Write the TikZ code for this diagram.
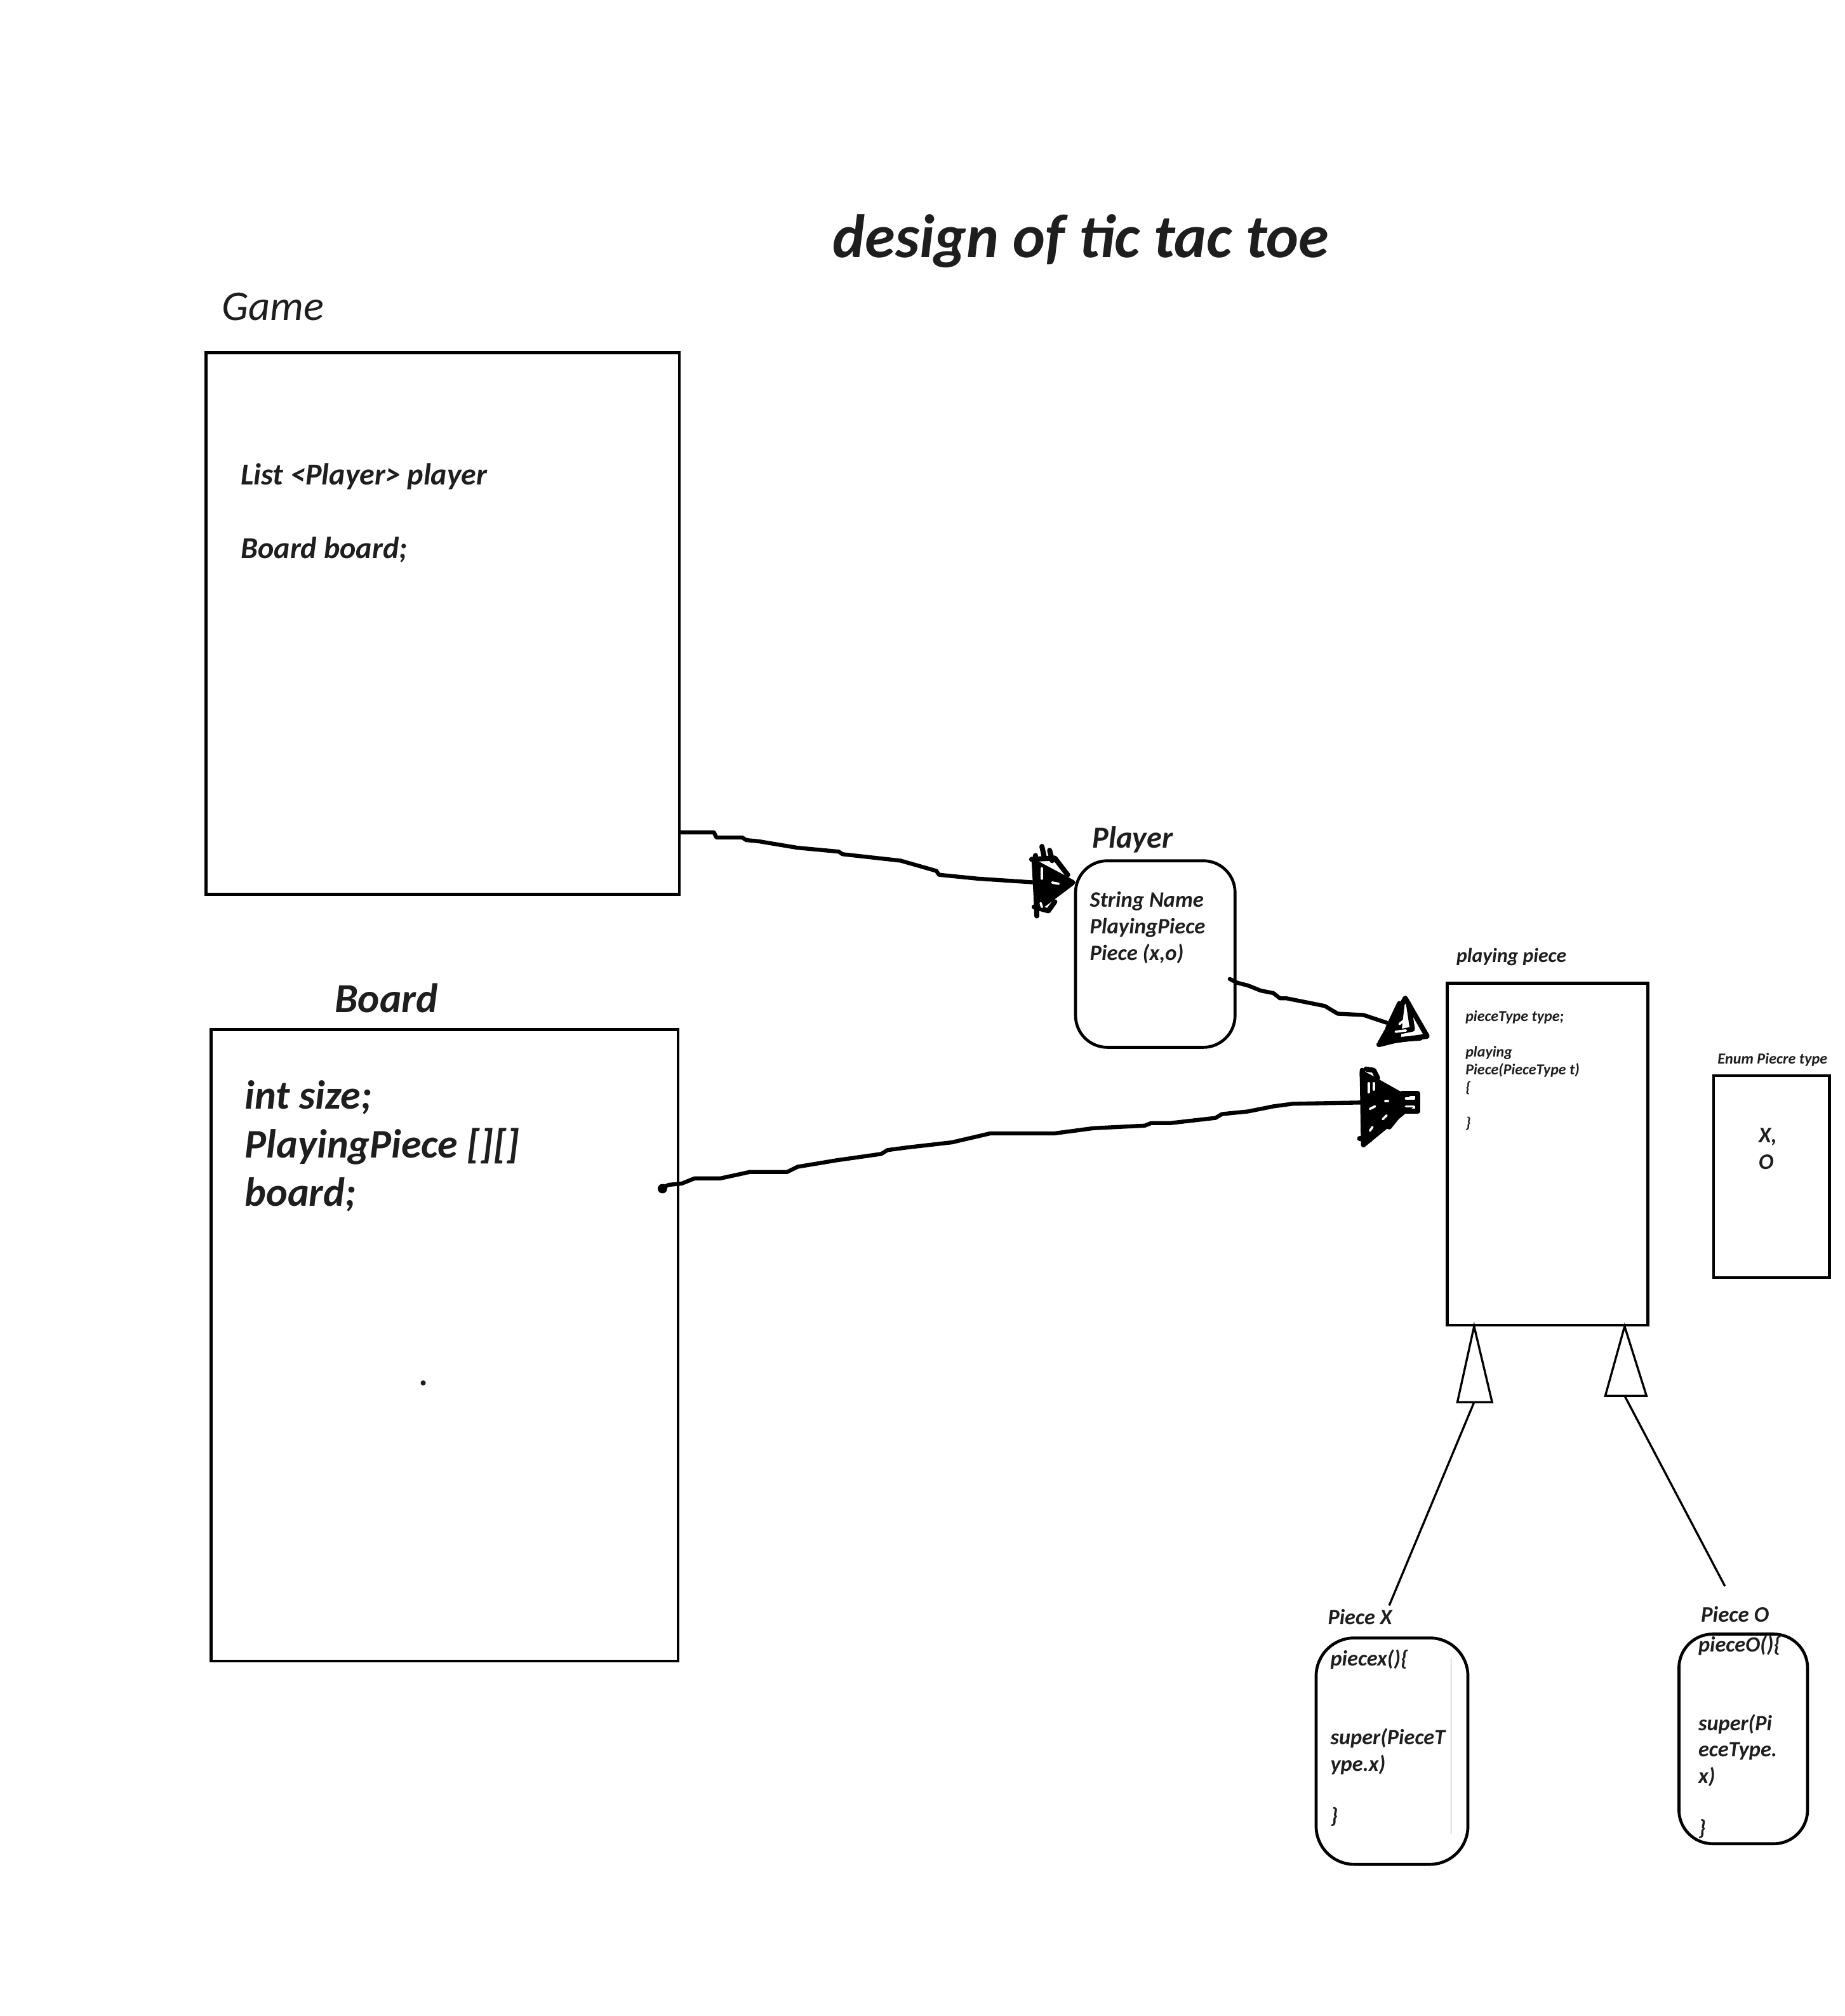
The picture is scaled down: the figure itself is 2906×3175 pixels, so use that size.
\documentclass[tikz,border=0pt]{standalone}
\usepackage{fontspec}
\setmainfont{Carlito}
\usetikzlibrary{fit}
\definecolor{ink}{HTML}{1E1E1E}
\newcommand\blk[2]{\vtop{\baselineskip=#1\lineskiplimit=-100pt\lineskip=0pt\relax #2}}
\begin{document}
\begin{tikzpicture}[x=0.3pt,y=-0.3pt,
  box/.style={draw=black, line width=1.4pt, inner sep=0pt},
  rbox/.style={box, rounded corners=#1},
  txt/.style={inner sep=0pt, anchor=base west, text=ink, font=\bfseries\itshape},
  wire/.style={line width=1.9pt, line join=round, line cap=round},
  scrib/.style={line width=2.4pt, line join=round, line cap=round},
  hole/.style={white, line width=1.1pt, line cap=round},
  inh/.style={draw=black, line width=1pt, fill=white, line join=miter}]
\useasboundingbox[fill=white] (0,0) rectangle (2906,3175);
\begin{scope}[scale=1.013]
% title
\node[txt] (title) at (1294,400) {\fontsize{29}{35}\selectfont design of tic tac toe};

% Game
\node[txt, font=\itshape] (gamelbl) at (344,498) {\fontsize{20}{24}\selectfont Game};
\node[box, fit={(320,548) (1056,1390)}] (game) {};
\node[txt] (gametxt) at (374,754) {\fontsize{14.4}{17}\selectfont\blk{17.4pt}{\hbox{List <Player> player}\hbox{}\hbox{Board board;}}};

% Board
\node[txt] (boardlbl) at (520,1574) {\fontsize{19.5}{23}\selectfont Board};
\node[box, fit={(328,1600) (1054,2582)}] (board) {};
\node[txt] (boardtxt) at (380,1724) {\fontsize{19.2}{23}\selectfont\blk{23pt}{\hbox{int size;}\hbox{PlayingPiece [][]}\hbox{board;}}};
\fill[ink] (658,2150) circle (1.2pt) coordinate (dot);

% Player
\node[txt] (playerlbl) at (1698,1318) {\fontsize{14.5}{17}\selectfont Player};
\node[rbox=15pt, fit={(1672,1338) (1920,1628)}] (player) {};
\node[txt] (playertxt) at (1694,1410) {\fontsize{10.4}{12}\selectfont\blk{12.6pt}{\hbox{String Name}\hbox{PlayingPiece}\hbox{Piece (x,o)}}};

% playing piece
\node[txt] (piecelbl) at (2264,1496) {\fontsize{9.5}{11}\selectfont playing piece};
\node[box, fit={(2250,1528) (2562,2060)}] (piece) {};
\node[txt] (piecetxt) at (2278,1588) {\fontsize{7.2}{8.6}\selectfont\blk{8.4pt}{\hbox{pieceType type;}\hbox{}\hbox{playing}\hbox{Piece(PieceType t)}\hbox{\{}\hbox{}\hbox{\}}}};

% enum
\node[txt] (enumlbl) at (2670,1654) {\fontsize{7.25}{8.7}\selectfont Enum Piecre type};
\node[box, fit={(2664,1672) (2844,1986)}] (enum) {};
\node[txt] (enumtxt) at (2734,1776) {\fontsize{10.5}{12.6}\selectfont\blk{12.6pt}{\hbox{X,}\hbox{O}}};

% Piece X
\node[txt] (pxlbl) at (2064,2526) {\fontsize{10.3}{12}\selectfont Piece X};
\node[rbox=18pt, fit={(2046,2546) (2282,2898)}] (px) {};
\node[txt] (pxtxt) at (2068,2590) {\fontsize{10.3}{12}\selectfont\blk{12.4pt}{\hbox{piecex()\{}\hbox{}\hbox{}\hbox{super(PieceT}\hbox{ype.x)}\hbox{}\hbox{\}}}};
\draw[gray!70, line width=0.5pt] (2256,2578) coordinate (pxa) -- (2256,2852) coordinate (pxb);

% Piece O
\node[txt] (polbl) at (2644,2522) {\fontsize{10.5}{12.6}\selectfont Piece O};
\node[rbox=16pt, fit={(2610,2540) (2810,2866)}] (po) {};
\node[txt] (potxt) at (2640,2568) {\fontsize{10.3}{12}\selectfont\blk{12.4pt}{\hbox{pieceO()\{}\hbox{}\hbox{}\hbox{super(Pi}\hbox{eceType.}\hbox{x)}\hbox{}\hbox{\}}}};

% inheritance
\draw[inh] (2292,2062) coordinate (ta) -- (2320,2180) -- (2266,2180) -- cycle;
\draw[inh] (2526,2062) coordinate (tb) -- (2560,2170) -- (2496,2170) -- cycle;
\draw[line width=1pt] (2292,2180) -- (2160,2496);
\draw[line width=1pt] (2526,2170) -- (2682,2466);

% Game -> Player
\draw[wire] (game.east |- 0,1294) -- (1110,1294) -- (1114,1302) -- (1154,1302) -- (1160,1306) -- (1180,1308)
  -- (1240,1318) -- (1304,1324) -- (1310,1328) -- (1400,1338) -- (1456,1354) -- (1460,1360)
  -- (1520,1366) -- (1610,1372);
\fill (1608,1340) -- (1668,1372) -- (1612,1414) -- cycle;
\draw[scrib] (1608,1340) -- (1668,1372) -- (1612,1414) -- cycle;
\draw[scrib] (1610,1330) -- (1612,1424);
\draw[scrib] (1604,1336) -- (1640,1334) -- (1660,1360);
\draw[scrib] (1620,1316) -- (1624,1334);
\draw[scrib] (1632,1322) -- (1636,1338);
\draw[scrib] (1608,1410) -- (1630,1416) -- (1640,1402);
\draw[hole] (1620,1350) -- (1620,1366);
\draw[hole] (1636,1372) -- (1646,1374);
\draw[hole] (1618,1404) -- (1620,1410);

% Player -> playing piece
\draw[wire] (1912,1522) -- (1924,1528) -- (1940,1532) -- (1960,1540) -- (1980,1544) -- (1990,1552)
  -- (2000,1552) -- (2060,1564) -- (2080,1576) -- (2120,1578) -- (2156,1590);
\fill (2185,1552) -- (2178,1614) -- (2150,1618) -- cycle;
\draw[scrib] (2185,1552) -- (2219,1611) -- (2146,1621) -- cycle;
\draw[scrib] (2190,1560) -- (2196,1600) -- (2166,1606);
\draw[scrib] (2144,1624) -- (2176,1616) -- (2208,1614);
\draw[scrib] (2176,1560) -- (2158,1598) -- (2162,1610);
\draw[hole] (2186,1584) -- (2176,1592);
\draw[hole] (2170,1604) -- (2186,1602);

% Board -> playing piece
\fill (1030,1848) circle (2.2pt);
\draw[wire] (1026,1848) -- (1040,1842) -- (1060,1840) -- (1080,1832) -- (1120,1832) -- (1166,1822)
  -- (1224,1822) -- (1240,1814) -- (1300,1804) -- (1370,1794) -- (1380,1788) -- (1410,1784)
  -- (1480,1776) -- (1540,1762) -- (1640,1762) -- (1700,1754) -- (1780,1750) -- (1790,1746)
  -- (1820,1746) -- (1890,1738) -- (1900,1732) -- (1940,1728) -- (1980,1720) -- (2010,1716)
  -- (2118,1714);
\fill (2118,1668) -- (2200,1714) -- (2122,1778) -- cycle;
\draw[scrib] (2118,1668) -- (2200,1714) -- (2122,1778) -- cycle;
\draw[scrib] (2118,1664) -- (2120,1780);
\draw[scrib] (2180,1700) rectangle (2204,1728);
\draw[scrib] (2124,1662) -- (2136,1664) -- (2142,1676);
\draw[scrib] (2114,1770) -- (2130,1772);
\draw[scrib] (2140,1740) -- (2160,1752) -- (2176,1732);
\draw[hole] (2128,1684) -- (2128,1698);
\draw[hole] (2136,1684) -- (2136,1694);
\draw[hole] (2154,1712) -- (2158,1712);
\draw[hole] (2186,1708) -- (2198,1708);
\draw[hole] (2186,1720) -- (2198,1720);
\draw[hole] (2130,1724) -- (2138,1720);
\draw[hole] (2150,1740) -- (2156,1734);
\draw[hole] (2130,1758) -- (2134,1752);
\end{scope}
\end{tikzpicture}
\end{document}
